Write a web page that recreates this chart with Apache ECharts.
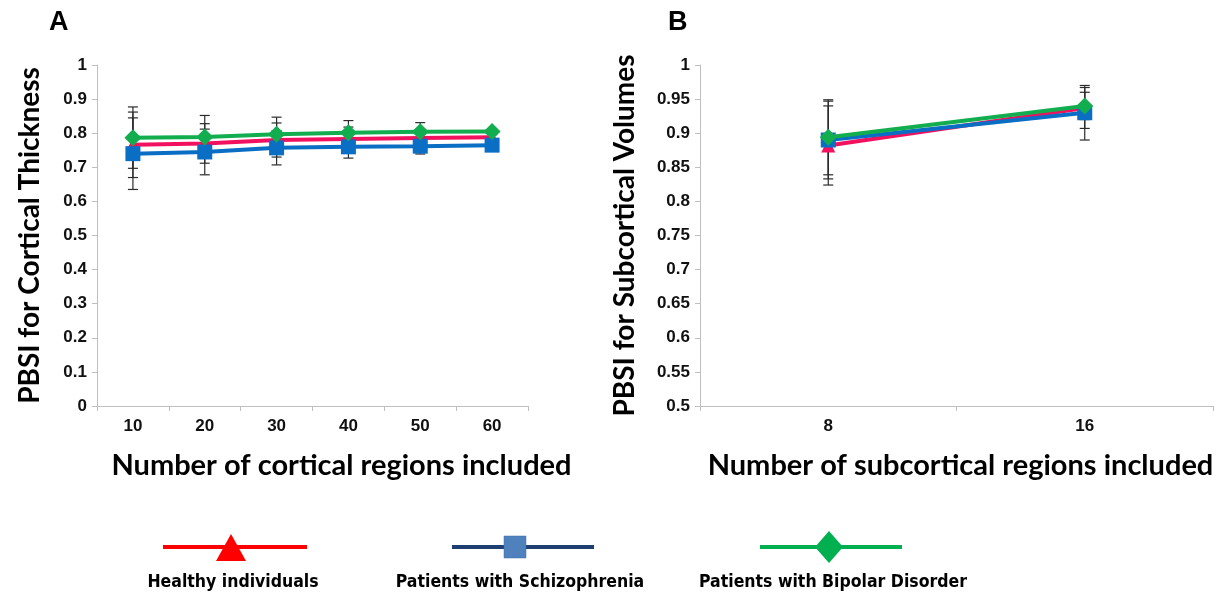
<!DOCTYPE html>
<html>
<head>
<meta charset="utf-8">
<script src="https://cdn.jsdelivr.net/npm/echarts@6/dist/echarts.min.js"></script>
<style>
  html, body { margin: 0; padding: 0; background: #fff; }
  #chart { width: 1222px; height: 598px; }
</style>
</head>
<body>
<div id="chart"></div>
<script>
// Panel A: cortical thickness PBSI by number of cortical regions
const cortRegions = ['10', '20', '30', '40', '50', '60'];
const cortHealthy = [0.766, 0.770, 0.780, 0.783, 0.786, 0.788];
const cortHealthyErr = [0.096, 0.058, 0.050, 0.035, 0.025, 0.008];
const cortSchizo = [0.740, 0.745, 0.757, 0.760, 0.762, 0.765];
const cortSchizoErr = [0.105, 0.067, 0.050, 0.033, 0.023, 0.008];
const cortBipolar = [0.787, 0.789, 0.797, 0.801, 0.804, 0.805];
const cortBipolarErr = [0.090, 0.063, 0.050, 0.036, 0.027, 0.008];

// Panel B: subcortical volume PBSI by number of subcortical regions
const subRegions = ['8', '16'];
const subHealthy = [0.882, 0.937];
const subHealthyErr = [0.058, 0.030];
const subSchizo = [0.890, 0.930];
const subSchizoErr = [0.057, 0.040];
const subBipolar = [0.894, 0.940];
const subBipolarErr = [0.055, 0.020];

const groupNames = ['Healthy individuals', 'Patients with Schizophrenia', 'Patients with Bipolar Disorder'];

const RED = '#F2115E', BLUE = '#0A6EC4', GREEN = '#12AD4F';
const AXIS_GRAY = '#BFBFBF';
const TITLE_FONT = 'Lato, "Open Sans", sans-serif';
const TICK_FONT = '"Liberation Sans", Arial, sans-serif';

function errData(vals, errs) {
  return vals.map((v, i) => [i, v - errs[i], v + errs[i]]);
}

function errorBars(gridIdx, vals, errs) {
  return {
    type: 'custom',
    xAxisIndex: gridIdx, yAxisIndex: gridIdx,
    z: 1,
    silent: true,
    data: errData(vals, errs),
    renderItem: function (params, api) {
      const i = api.value(0);
      const lo = api.coord([i, api.value(1)]);
      const hi = api.coord([i, api.value(2)]);
      const w = 5;
      const st = { stroke: '#2b2b2b', lineWidth: 1.2 };
      return {
        type: 'group',
        children: [
          { type: 'line', shape: { x1: lo[0], y1: lo[1], x2: hi[0], y2: hi[1] }, style: st },
          { type: 'line', shape: { x1: hi[0] - w, y1: hi[1], x2: hi[0] + w, y2: hi[1] }, style: st },
          { type: 'line', shape: { x1: lo[0] - w, y1: lo[1], x2: lo[0] + w, y2: lo[1] }, style: st }
        ]
      };
    }
  };
}

function lineSeries(gridIdx, name, vals, color, symbol, size, z) {
  return {
    type: 'line', name: name,
    xAxisIndex: gridIdx, yAxisIndex: gridIdx,
    data: vals,
    symbol: symbol, symbolSize: size,
    showSymbol: true,
    z: z,
    lineStyle: { color: color, width: 4 },
    itemStyle: { color: color, borderWidth: 0 },
    emphasis: { disabled: true }
  };
}

const tickLabelFmt = v => String(Number(v.toFixed(2)));

function yAxis(gridIdx, min, max, interval, name, nameGap) {
  return {
    type: 'value', gridIndex: gridIdx,
    min: min, max: max, interval: interval,
    name: name, nameLocation: 'middle', nameGap: nameGap, nameRotate: 90,
    nameTextStyle: { fontFamily: TITLE_FONT, fontWeight: 'bold', fontSize: 28, color: '#000' },
    axisLine: { show: true, lineStyle: { color: AXIS_GRAY, width: 1 } },
    axisTick: { show: true, length: 5, lineStyle: { color: AXIS_GRAY } },
    splitLine: { show: false },
    axisLabel: { fontFamily: TICK_FONT, fontWeight: 'bold', fontSize: 17, color: '#111', margin: 10, formatter: tickLabelFmt }
  };
}

function xAxis(gridIdx, cats, name, fontSize, padLeft) {
  return {
    type: 'category', gridIndex: gridIdx, data: cats,
    boundaryGap: true,
    name: name, nameLocation: 'middle', nameGap: 45,
    nameTextStyle: { fontFamily: TITLE_FONT, fontWeight: 'bold', fontSize: fontSize, color: '#000', padding: [0, 0, 0, padLeft] },
    axisLine: { show: true, onZero: false, lineStyle: { color: AXIS_GRAY, width: 1 } },
    axisTick: { show: true, length: 5, alignWithLabel: false, lineStyle: { color: AXIS_GRAY } },
    splitLine: { show: false },
    axisLabel: { fontFamily: TICK_FONT, fontWeight: 'bold', fontSize: 17, color: '#111', margin: 12 }
  };
}

// Legend: line + marker above each group name
const legendItems = [
  { cx: 233, x1: 163, x2: 307, line: '#FF0000', sym: 'triangle', fill: '#FF0000', label: groupNames[0] },
  { cx: 520, x1: 452, x2: 594, line: '#1F3F73', sym: 'square', fill: '#4F81BD', label: groupNames[1] },
  { cx: 833, x1: 760, x2: 902, line: '#00B050', sym: 'diamond', fill: '#00B050', label: groupNames[2] }
];
const legendY = 547;
const legendGraphics = [];
legendItems.forEach(it => {
  legendGraphics.push({
    type: 'line', shape: { x1: it.x1, y1: legendY, x2: it.x2, y2: legendY },
    style: { stroke: it.line, lineWidth: 4 }, silent: true
  });
  if (it.sym === 'triangle') {
    legendGraphics.push({ type: 'polygon', shape: { points: [[it.cx - 2, 534], [it.cx - 17, 561], [it.cx + 13, 561]] }, style: { fill: it.fill } });
  } else if (it.sym === 'square') {
    legendGraphics.push({ type: 'rect', shape: { x: it.cx - 16, y: legendY - 11, width: 22, height: 22 }, style: { fill: it.fill, stroke: '#3d6ea8', lineWidth: 0.5 } });
  } else {
    legendGraphics.push({ type: 'polygon', shape: { points: [[it.cx - 4, legendY - 16], [it.cx + 10, legendY], [it.cx - 4, legendY + 16], [it.cx - 18, legendY]] }, style: { fill: it.fill } });
  }
  legendGraphics.push({
    type: 'text', x: it.cx, y: 582,
    style: {
      text: it.label, align: 'center', verticalAlign: 'middle',
      font: 'bold 17.5px "Liberation Sans Narrow", "DejaVu Sans Condensed", sans-serif', fill: '#000'
    }
  });
});

const chart = echarts.init(document.getElementById('chart'), null, { renderer: 'canvas' });
chart.setOption({
  animation: false,
  backgroundColor: '#fff',
  title: [
    { text: 'A', left: 44, top: 4, textStyle: { fontFamily: TICK_FONT, fontWeight: 'bold', fontSize: 27, color: '#000' } },
    { text: 'B', left: 663, top: 4, textStyle: { fontFamily: TICK_FONT, fontWeight: 'bold', fontSize: 27, color: '#000' } }
  ],
  grid: [
    { left: 97, right: 694, top: 65, bottom: 192 },
    { left: 700, right: 9, top: 65, bottom: 192 }
  ],
  xAxis: [
    xAxis(0, cortRegions, 'Number of cortical regions included', 29, 58),
    xAxis(1, subRegions, 'Number of subcortical regions included', 29, 8)
  ],
  yAxis: [
    yAxis(0, 0, 1, 0.1, 'PBSI for Cortical Thickness', 53),
    yAxis(1, 0.5, 1, 0.05, 'PBSI for Subcortical Volumes', 61)
  ],
  series: [
    errorBars(0, cortHealthy, cortHealthyErr),
    errorBars(0, cortSchizo, cortSchizoErr),
    errorBars(0, cortBipolar, cortBipolarErr),
    lineSeries(0, groupNames[0], cortHealthy, RED, 'triangle', 14, 2),
    lineSeries(0, groupNames[1], cortSchizo, BLUE, 'rect', 15, 3),
    lineSeries(0, groupNames[2], cortBipolar, GREEN, 'diamond', 17, 4),
    errorBars(1, subHealthy, subHealthyErr),
    errorBars(1, subSchizo, subSchizoErr),
    errorBars(1, subBipolar, subBipolarErr),
    lineSeries(1, groupNames[0], subHealthy, RED, 'triangle', 14, 2),
    lineSeries(1, groupNames[1], subSchizo, BLUE, 'rect', 15, 3),
    lineSeries(1, groupNames[2], subBipolar, GREEN, 'diamond', 17, 4)
  ],
  graphic: legendGraphics
});
</script>
</body>
</html>
